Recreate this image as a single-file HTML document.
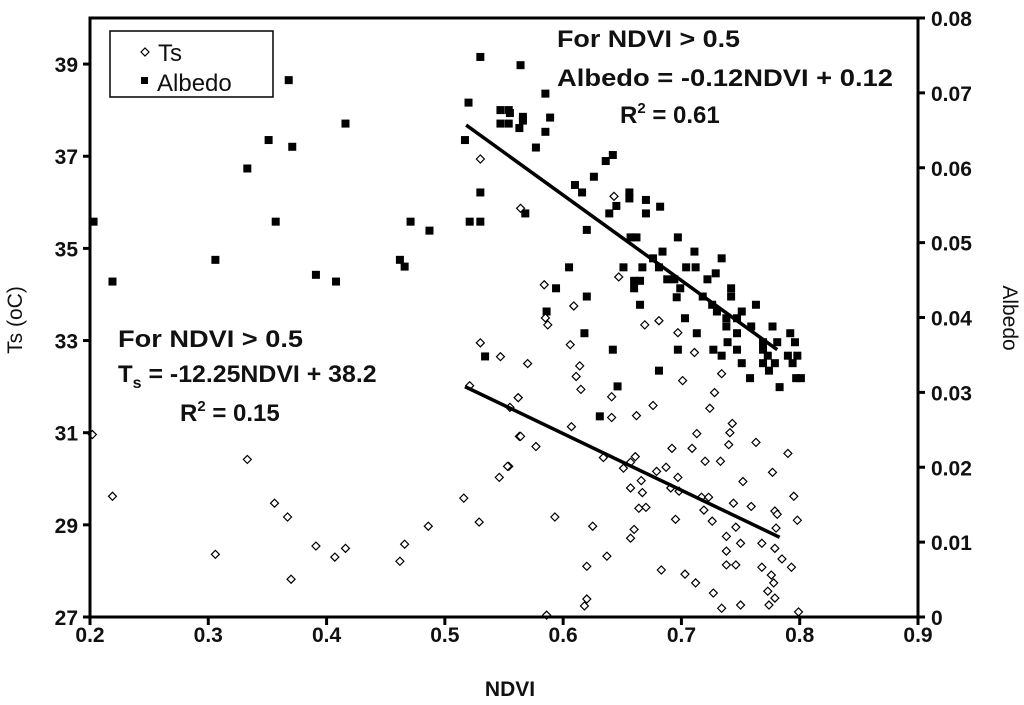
<!DOCTYPE html>
<html><head><meta charset="utf-8"><style>
html,body{margin:0;padding:0;background:#fff;}
svg{display:block;font-family:"Liberation Sans",Arial,sans-serif;}
</style></head><body>
<svg id="chart" width="1024" height="705" viewBox="0 0 1024 705">
<g id="plot"></g>
</svg>
<script>
const xTicks=[0.2,0.3,0.4,0.5,0.6,0.7,0.8,0.9];
const tsTicks=[27,29,31,33,35,37,39];
const albTicks=[0,0.01,0.02,0.03,0.04,0.05,0.06,0.07,0.08];
const tsNdvi=[0.202,0.219,0.306,0.333,0.356,0.367,0.370,0.391,0.407,0.416,0.462,0.466,0.486,0.516,0.529,0.521,0.530,0.547,0.562,0.563,0.554,0.546,0.530,0.564,0.643,
0.584,0.647,0.609,0.587,0.585,0.669,0.681,0.697,0.711,0.606,0.614,0.611,0.615,0.701,0.734,0.728,0.724,0.570,0.562,0.555,0.564,0.577,0.553,0.641,0.641,0.662,0.676,0.607,
0.743,0.741,0.740,0.713,0.763,0.790,0.692,0.709,0.720,0.733,0.777,0.634,0.661,0.657,0.651,0.679,0.687,0.697,0.752,0.666,0.657,0.667,0.691,0.698,0.717,0.723,0.744,0.759,0.795,
0.664,0.670,0.719,0.779,0.781,0.798,0.593,0.625,0.695,0.726,0.746,0.780,0.660,0.657,0.738,0.750,0.768,0.779,0.738,0.785,0.637,0.738,0.746,0.768,0.793,0.620,0.683,0.703,0.712,
0.776,0.778,0.773,0.727,0.779,0.620,0.618,0.734,0.750,0.774,0.586,0.799];
const tsVals=[30.96,29.62,28.36,30.42,29.47,29.17,27.82,28.54,28.30,28.49,28.21,28.58,28.97,29.58,29.06,32.02,32.95,32.65,31.76,30.92,30.27,30.03,36.94,35.87,36.13,
34.21,34.38,33.75,33.34,33.49,33.34,33.43,33.17,32.74,32.91,32.45,32.22,31.94,32.13,32.28,31.87,31.53,32.50,31.76,31.55,30.92,30.70,30.27,31.78,31.33,31.37,31.59,31.13,
31.20,31.00,30.74,30.98,30.79,30.55,30.66,30.66,30.38,30.38,30.14,30.46,30.48,30.36,30.23,30.16,30.25,30.03,29.94,29.96,29.80,29.70,29.80,29.73,29.60,29.60,29.47,29.40,29.62,
29.36,29.38,29.32,29.30,29.23,29.10,29.17,28.97,29.12,29.08,28.95,28.93,28.90,28.71,28.75,28.60,28.60,28.49,28.43,28.26,28.32,28.13,28.13,28.08,28.08,28.10,28.02,27.93,27.74,
27.91,27.74,27.56,27.52,27.41,27.39,27.24,27.19,27.26,27.26,27.04,27.11];
const albNdvi=[0.203,0.219,0.306,0.333,0.351,0.357,0.368,0.371,0.391,0.408,0.416,0.462,0.466,0.471,0.487,0.517,0.520,0.530,0.530,0.521,0.530,0.534,0.547,0.554,0.547,0.554,0.564,0.563,0.566,0.568,
0.585,0.589,0.585,0.577,0.566,0.555,0.642,0.636,0.626,0.610,0.616,0.656,0.670,0.682,0.670,0.639,0.645,0.656,0.620,0.657,0.662,0.697,0.684,0.711,0.734,0.676,0.651,0.667,0.681,0.704,0.712,0.605,
0.688,0.694,0.722,0.729,0.660,0.660,0.665,0.594,0.620,0.696,0.699,0.718,0.742,0.742,0.665,0.726,0.763,0.751,0.730,0.586,0.703,0.738,0.747,0.738,0.759,0.777,0.747,0.713,0.618,0.792,
0.739,0.769,0.781,0.796,0.642,0.697,0.727,0.747,0.769,0.773,0.734,0.790,0.798,0.769,0.751,0.779,0.794,0.774,0.681,0.758,0.797,0.801,0.783,0.646,0.631];
const albVals=[0.0528,0.0448,0.0477,0.0599,0.0637,0.0528,0.0717,0.0628,0.0457,0.0448,0.0659,0.0477,0.0468,0.0528,0.0516,0.0637,0.0687,0.0748,0.0567,0.0528,0.0528,0.0348,0.0677,0.0677,0.0659,0.0659,0.0737,0.0653,0.0668,0.0539,
0.0699,0.0667,0.0648,0.0627,0.0663,0.0673,0.0617,0.0609,0.0588,0.0577,0.0567,0.0567,0.0557,0.0548,0.0539,0.0539,0.0549,0.0559,0.0517,0.0507,0.0507,0.0507,0.0488,0.0488,0.0479,0.0479,0.0467,0.0467,0.0467,0.0467,0.0467,0.0467,
0.0451,0.0451,0.0451,0.0459,0.0449,0.0439,0.0449,0.0439,0.0428,0.0427,0.0439,0.0428,0.0439,0.0428,0.0417,0.0417,0.0417,0.0408,0.0408,0.0408,0.0399,0.0399,0.0399,0.0388,0.0388,0.0388,0.0379,0.0379,0.0379,0.0379,
0.0367,0.0367,0.0367,0.0367,0.0357,0.0357,0.0357,0.0357,0.0357,0.0349,0.0349,0.0349,0.0349,0.0339,0.0339,0.0339,0.0339,0.0329,0.0329,0.0319,0.0319,0.0319,0.0307,0.0308,0.0268];
const tsFitX=[0.517,0.783];
const tsFitY=[32.0,28.73];
const albFitX=[0.518,0.781];
const albFitY=[0.0657,0.0357];

const L=90,R=918,T=18,B=617;
const xs=v=>L+(v-0.2)/0.7*(R-L);
const yTs=v=>B-(v-27)/13*(B-T);
const yAl=v=>B-v/0.08*(B-T);
const NS='http://www.w3.org/2000/svg';
const svg=document.getElementById('chart');
function mk(tag,attrs,parent){const e=document.createElementNS(NS,tag);for(const k in attrs)e.setAttribute(k,attrs[k]);(parent||svg).appendChild(e);return e;}

const ptsG=mk('g',{});


albNdvi.forEach((n,i)=>{const x=xs(n),y=yAl(albVals[i]);
 const r=mk('rect',{x:x-4,y:y-4,width:8,height:8,fill:'#000'},ptsG);
 
 });
const tsG=mk('g',{});


tsNdvi.forEach((n,i)=>{const x=xs(n),y=yTs(tsVals[i]);
 const p=mk('path',{d:`M${x-4},${y} L${x},${y-4} L${x+4},${y} L${x},${y+4} Z`,fill:'#fff',stroke:'#000','stroke-width':1.2},tsG);
 
 });
const l1=mk('line',{x1:xs(albFitX[0]),y1:yAl(albFitY[0]),x2:xs(albFitX[1]),y2:yAl(albFitY[1]),stroke:'#000','stroke-width':3.5});


const l2=mk('line',{x1:xs(tsFitX[0]),y1:yTs(tsFitY[0]),x2:xs(tsFitX[1]),y2:yTs(tsFitY[1]),stroke:'#000','stroke-width':3.5});


const fr=mk('rect',{x:L,y:T,width:R-L,height:B-T,fill:'none',stroke:'#000','stroke-width':3});


xTicks.forEach(v=>{const x=xs(v);
 mk('line',{x1:x,y1:B,x2:x,y2:B+8,stroke:'#000','stroke-width':3});
 const t=mk('text',{x:x,y:B+25,'text-anchor':'middle','font-size':21,'font-weight':'bold',fill:'#111'});
 t.textContent=v.toFixed(1);
 
 });
tsTicks.forEach(v=>{const y=yTs(v);
 mk('line',{x1:L-7,y1:y,x2:L,y2:y,stroke:'#000','stroke-width':3});
 const t=mk('text',{x:L-12,y:y+8,'text-anchor':'end','font-size':21,'font-weight':'bold',fill:'#111'});
 t.textContent=v;
 
 });
albTicks.forEach(v=>{const y=yAl(v);
 mk('line',{x1:R,y1:y,x2:R+7,y2:y,stroke:'#000','stroke-width':3});
 const t=mk('text',{x:R+13,y:y+8,'text-anchor':'start','font-size':21,'font-weight':'bold',fill:'#111'});
 t.textContent=v===0?'0':v.toFixed(2);
 
 });
</script>
<div style="position:absolute;left:0;top:0;width:1024px;height:705px;pointer-events:none;">
<svg width="1024" height="705" style="position:absolute;left:0;top:0" font-family="Liberation Sans, Arial, sans-serif">
 <text x="510" y="696" text-anchor="middle" font-size="21" font-weight="bold" fill="#111">NDVI</text>
 <text transform="translate(22,320) rotate(-90)" text-anchor="middle" font-size="21" fill="#111">Ts (oC)</text>
 <text transform="translate(1003,318) rotate(90)" text-anchor="middle" font-size="21" fill="#111">Albedo</text>
 <g>
  <rect x="110" y="31" width="163" height="66" fill="#fff" stroke="#000" stroke-width="1.5"/>
  <path d="M141,52 L145,48 L149,52 L145,56 Z" fill="#fff" stroke="#000" stroke-width="1.2"/>
  <text x="158" y="61" font-size="24" fill="#111">Ts</text>
  <rect x="141" y="77" width="7" height="7" fill="#000"/>
  <text x="157" y="91" font-size="24" fill="#111">Albedo</text>
 </g>
 <g font-size="24" font-weight="bold" fill="#111">
  <text x="557" y="47" textLength="183" lengthAdjust="spacingAndGlyphs">For NDVI &gt; 0.5</text>
  <text x="557" y="86" textLength="336" lengthAdjust="spacingAndGlyphs">Albedo = -0.12NDVI + 0.12</text>
  <text x="620" y="123">R<tspan font-size="15" dy="-10">2</tspan><tspan dy="10"> = 0.61</tspan></text>
 </g>
 <g font-size="24" font-weight="bold" fill="#111">
  <text x="118" y="347" textLength="185" lengthAdjust="spacingAndGlyphs">For NDVI &gt; 0.5</text>
  <text x="118" y="382">T<tspan font-size="16" dy="6">s</tspan><tspan dy="-6" textLength="235" lengthAdjust="spacingAndGlyphs"> = -12.25NDVI + 38.2</tspan></text>
  <text x="180" y="421">R<tspan font-size="15" dy="-10">2</tspan><tspan dy="10"> = 0.15</tspan></text>
 </g>
</svg>
</div>
</body></html>
